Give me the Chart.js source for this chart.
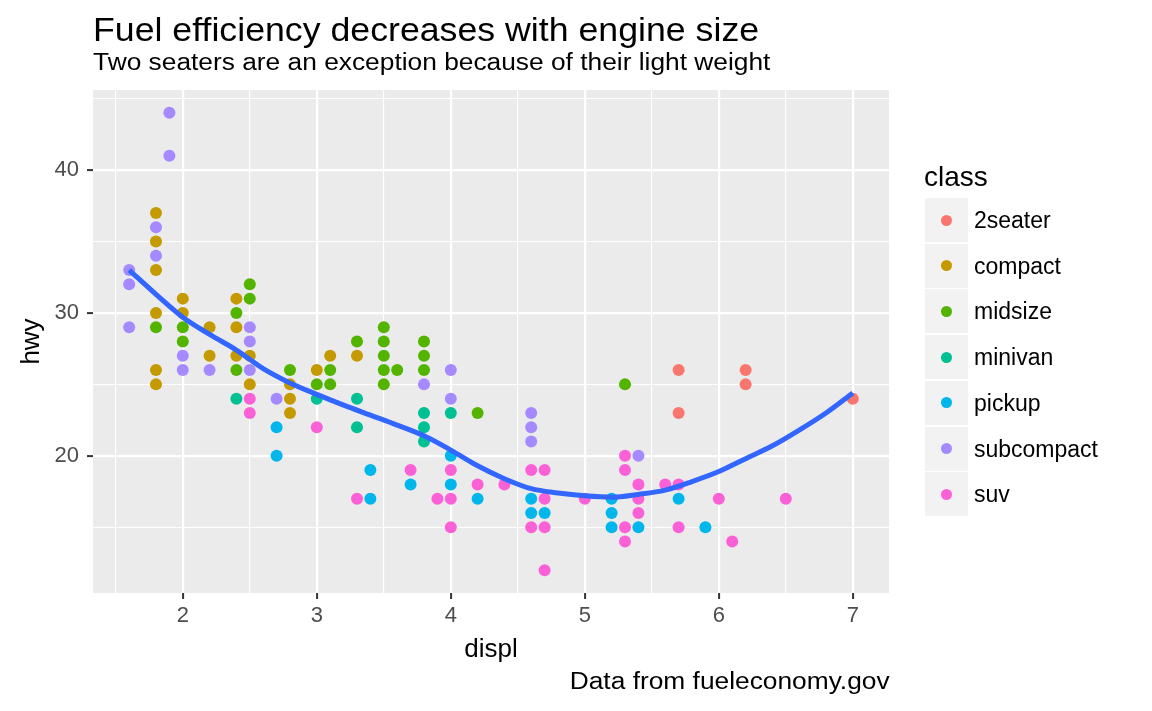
<!DOCTYPE html>
<html>
<head>
<meta charset="utf-8">
<script src="https://cdn.jsdelivr.net/npm/chart.js@4.4.0/dist/chart.umd.min.js"></script>
<style>
  html, body { margin: 0; padding: 0; background: #fff; }
  body { font-family: "Liberation Sans", Arial, sans-serif; }
  #wrap { position: relative; width: 1152px; height: 711px; overflow: hidden; }
  #chart-box { position: absolute; left: 0; top: 0; width: 1152px; height: 711px; }
  .txt { position: absolute; white-space: nowrap; line-height: 1; color: #000; }
  #title { left: 93px; top: 12px; font-size: 34px; transform: scaleX(1.05); transform-origin: left top; }
  #subtitle { left: 93px; top: 51px; font-size: 23.5px; transform: scaleX(1.12); transform-origin: left top; }
  #caption { right: 262px; top: 670px; font-size: 23.5px; transform: scaleX(1.12); transform-origin: right top; }
  #legend-title { left: 924px; top: 163px; font-size: 28px; }
  .key { position: absolute; left: 925px; width: 43px; height: 44px; background: #F2F2F2; }
  .key-dot { position: absolute; left: 16px; top: 16.5px; width: 11px; height: 11px; border-radius: 50%; }
  .key-label { position: absolute; left: 974px; font-size: 23px; line-height: 44px; white-space: nowrap; }
</style>
</head>
<body>
<div id="wrap">
  <div id="chart-box"><canvas id="mpg-chart"></canvas></div>
  <div class="txt" id="title">Fuel efficiency decreases with engine size</div>
  <div class="txt" id="subtitle">Two seaters are an exception because of their light weight</div>
  <div class="txt" id="caption">Data from fueleconomy.gov</div>
  <div class="txt" id="legend-title">class</div>
  <div id="legend"></div>
</div>
<script>
// categories and colours (ggplot default hue palette)
const classes = ['2seater', 'compact', 'midsize', 'minivan', 'pickup', 'subcompact', 'suv'];
const classColors = ['#F8766D', '#C49A00', '#53B400', '#00C094', '#00B6EB', '#A58AFF', '#FB61D7'];

// points (displ, hwy) per class
const displ2seater = [5.7, 5.7, 6.2, 6.2, 7.0];
const hwy2seater   = [26, 23, 26, 25, 24];

const displCompact = [1.8, 1.8, 1.8, 1.8, 1.8, 1.8, 2.0, 2.0, 2.2, 2.2, 2.4, 2.4, 2.4, 2.5, 2.5, 2.8, 2.8, 2.8, 3.0, 3.1, 3.3];
const hwyCompact   = [37, 35, 33, 30, 26, 25, 31, 30, 29, 27, 31, 29, 27, 27, 25, 25, 24, 23, 26, 27, 27];

const displMidsize = [1.8, 2.0, 2.0, 2.4, 2.4, 2.5, 2.5, 2.8, 3.0, 3.1, 3.1, 3.3, 3.5, 3.5, 3.5, 3.5, 3.5, 3.6, 3.8, 3.8, 3.8, 4.2, 5.3];
const hwyMidsize   = [29, 29, 28, 30, 26, 32, 31, 26, 25, 26, 25, 28, 29, 28, 27, 26, 25, 26, 28, 27, 26, 23, 25];

const displMinivan = [2.4, 3.0, 3.3, 3.3, 3.8, 3.8, 3.8, 4.0];
const hwyMinivan   = [24, 24, 24, 22, 23, 22, 21, 23];

const displPickup = [2.7, 2.7, 3.4, 3.4, 3.7, 4.0, 4.0, 4.2, 4.6, 4.6, 4.7, 5.2, 5.2, 5.2, 5.4, 5.7, 5.9];
const hwyPickup   = [22, 20, 19, 17, 18, 20, 18, 17, 17, 16, 16, 17, 16, 15, 15, 17, 15];

const displSubcompact = [1.6, 1.6, 1.6, 1.8, 1.8, 1.9, 1.9, 2.0, 2.0, 2.2, 2.5, 2.5, 2.5, 2.7, 3.8, 4.0, 4.0, 4.6, 4.6, 4.6, 5.4];
const hwySubcompact   = [33, 32, 29, 36, 34, 44, 41, 27, 26, 26, 29, 28, 26, 24, 25, 26, 24, 23, 22, 21, 20];

const displSuv = [2.5, 2.5, 3.0, 3.3, 3.7, 3.9, 4.0, 4.0, 4.0, 4.2, 4.4, 4.6, 4.6, 4.7, 4.7, 4.7, 4.7, 5.0, 5.3, 5.3, 5.3, 5.3, 5.4, 5.4, 5.4, 5.6, 5.7, 5.7, 6.0, 6.1, 6.5];
const hwySuv   = [24, 23, 22, 17, 19, 17, 19, 17, 15, 18, 18, 19, 15, 19, 17, 15, 12, 17, 20, 19, 15, 14, 18, 17, 16, 18, 18, 15, 17, 14, 17];

const classDispl = [displ2seater, displCompact, displMidsize, displMinivan, displPickup, displSubcompact, displSuv];
const classHwy   = [hwy2seater, hwyCompact, hwyMidsize, hwyMinivan, hwyPickup, hwySubcompact, hwySuv];

// smooth (loess) curve
const smoothDispl = [1.6, 1.8, 2.0, 2.2, 2.4, 2.6, 2.8, 3.0, 3.2, 3.4, 3.6, 3.8, 4.0, 4.2, 4.4, 4.6, 4.8, 5.0, 5.2, 5.4, 5.6, 5.8, 6.0, 6.2, 6.4, 6.6, 6.8, 7.0];
const smoothHwy   = [33.0, 31.3, 29.7, 28.5, 27.4, 26.1, 25.1, 24.3, 23.55, 22.85, 22.15, 21.4, 20.4, 19.3, 18.4, 17.7, 17.4, 17.2, 17.1, 17.3, 17.6, 18.2, 18.9, 19.8, 20.7, 21.8, 23.0, 24.4];

// axes
const xMajor = [2, 3, 4, 5, 6, 7];
const xMinor = [1.5, 2.5, 3.5, 4.5, 5.5, 6.5];
const yMajor = [20, 30, 40];
const yMinor = [15, 25, 35, 45];
const xLimits = [1.33, 7.27];
const yLimits = [10.4, 45.6];

const FONT = '"Liberation Sans", Arial, sans-serif';

function toPoints(xs, ys) {
  return xs.map((x, i) => ({ x: x, y: ys[i] }));
}

// legend (html)
const legendEl = document.getElementById('legend');
classes.forEach((name, i) => {
  const top = 198 + i * 45.7;
  const key = document.createElement('div');
  key.className = 'key';
  key.style.top = top + 'px';
  const dot = document.createElement('div');
  dot.className = 'key-dot';
  dot.style.background = classColors[i];
  key.appendChild(dot);
  legendEl.appendChild(key);
  const label = document.createElement('div');
  label.className = 'key-label';
  label.style.top = top + 'px';
  label.textContent = name;
  legendEl.appendChild(label);
});

// grey panel behind the grid
const panelBg = {
  id: 'panelBg',
  beforeDraw(chart) {
    const { ctx, chartArea } = chart;
    ctx.save();
    ctx.fillStyle = '#EBEBEB';
    ctx.fillRect(chartArea.left, chartArea.top, chartArea.right - chartArea.left, chartArea.bottom - chartArea.top);
    ctx.restore();
  }
};

function axisOptions(major, minor, limits, title, fitFn, pad) {
  return {
    type: 'linear',
    min: limits[0],
    max: limits[1],
    bounds: 'data',
    afterBuildTicks: function(scale) {
      scale.ticks = minor.concat(major).sort((a, b) => a - b).map(v => ({ value: v }));
    },
    afterFit: fitFn,
    border: { display: false },
    grid: {
      color: '#FFFFFF',
      lineWidth: ctx => (ctx.tick && major.includes(ctx.tick.value)) ? 2.2 : 1.1,
      tickColor: ctx => (ctx.tick && major.includes(ctx.tick.value)) ? '#333333' : 'rgba(0,0,0,0)',
      tickWidth: 2,
      tickLength: 6
    },
    ticks: {
      autoSkip: false,
      maxRotation: 0,
      padding: pad,
      color: '#4D4D4D',
      font: { family: FONT, size: 22 },
      callback: value => major.includes(value) ? String(value) : ''
    },
    title: {
      display: true,
      text: title,
      color: '#000000',
      font: { family: FONT, size: 26 },
      padding: { top: 0, bottom: 0 }
    }
  };
}

const datasets = [{
  label: 'smooth',
  data: toPoints(smoothDispl, smoothHwy),
  showLine: true,
  borderColor: '#3366FF',
  borderWidth: 5,
  pointRadius: 0,
  cubicInterpolationMode: 'monotone',
  order: 0
}];
classes.forEach((name, i) => {
  datasets.push({
    label: name,
    data: toPoints(classDispl[i], classHwy[i]),
    backgroundColor: classColors[i],
    borderWidth: 0,
    pointRadius: 6,
    pointHoverRadius: 6,
    order: 1
  });
});

const ctx = document.getElementById('mpg-chart').getContext('2d');
new Chart(ctx, {
  type: 'scatter',
  data: { datasets: datasets },
  plugins: [panelBg],
  options: {
    responsive: true,
    maintainAspectRatio: false,
    animation: false,
    layout: { padding: { left: 16, right: 263, top: 90, bottom: 46 } },
    plugins: {
      legend: { display: false },
      tooltip: { enabled: false }
    },
    scales: {
      x: axisOptions(xMajor, xMinor, xLimits, 'displ', s => { s.height = 72; }, 4),
      y: axisOptions(yMajor, yMinor, yLimits, 'hwy', s => { s.width = 77; }, 8)
    }
  }
});
</script>
</body>
</html>
